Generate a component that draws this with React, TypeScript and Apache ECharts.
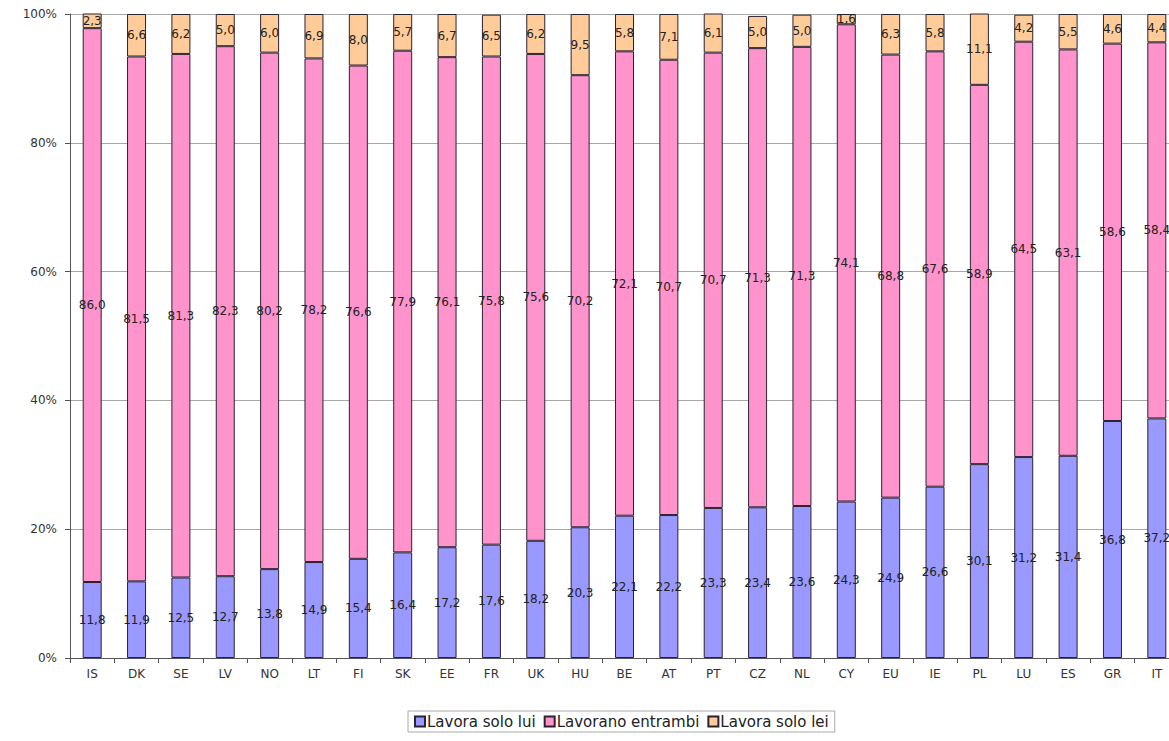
import React, { useEffect, useRef } from "react";
import * as echarts from "echarts";

const categories = ["IS","DK","SE","LV","NO","LT","FI","SK","EE","FR","UK","HU","BE","AT","PT","CZ","NL","CY","EU","IE","PL","LU","ES","GR","IT"];
const lavoraSoloLui = [11.8,11.9,12.5,12.7,13.8,14.9,15.4,16.4,17.2,17.6,18.2,20.3,22.1,22.2,23.3,23.4,23.6,24.3,24.9,26.6,30.1,31.2,31.4,36.8,37.2];
const lavoranoEntrambi = [86.0,81.5,81.3,82.3,80.2,78.2,76.6,77.9,76.1,75.8,75.6,70.2,72.1,70.7,70.7,71.3,71.3,74.1,68.8,67.6,58.9,64.5,63.1,58.6,58.4];
const lavoraSoloLei = [2.3,6.6,6.2,5.0,6.0,6.9,8.0,5.7,6.7,6.5,6.2,9.5,5.8,7.1,6.1,5.0,5.0,1.6,6.3,5.8,11.1,4.2,5.5,4.6,4.4];
const seriesNames = ["Lavora solo lui", "Lavorano entrambi", "Lavora solo lei"];
const yTicks = [0, 20, 40, 60, 80, 100];

const FONT = "DejaVu Sans";

export default function App() {
  const ref = useRef<HTMLDivElement>(null);
  useEffect(() => {
    if (!ref.current) return;
    const chart = echarts.init(ref.current, undefined, { renderer: "svg" });
    const fmt = (p: any) => Number(p.value).toFixed(1).replace(".", ",");
    const mk = (name: string, data: number[], color: string) => ({
      name,
      type: "bar",
      stack: "tot",
      data,
      barWidth: 19,
      itemStyle: { color, borderColor: "#2a2233", borderWidth: 1 },
      label: {
        show: true,
        position: "inside",
        formatter: fmt,
        color: "#222",
        fontFamily: FONT,
        fontSize: 12,
      },
    });
    chart.setOption({
      animation: false,
      backgroundColor: "#fff",
      grid: { left: 70, right: 1, top: 14, bottom: 83, containLabel: false },
      legend: {
        left: 408,
        top: 711,
        data: seriesNames,
        orient: "horizontal",
        itemWidth: 10,
        itemHeight: 10,
        itemGap: 8,
        padding: [3, 6],
        borderColor: "#aaa",
        borderWidth: 1,
        textStyle: { fontFamily: FONT, fontSize: 15, color: "#222", padding: [0, 0, 0, -3] },
        icon: "rect",
      },
      xAxis: {
        type: "category",
        data: categories,
        boundaryGap: true,
        axisLine: { lineStyle: { color: "#555", width: 1 } },
        axisTick: { show: true, alignWithLabel: false, length: 5, lineStyle: { color: "#555" } },
        axisLabel: { fontFamily: FONT, fontSize: 12, color: "#333", margin: 10, interval: 0 },
      },
      yAxis: {
        type: "value",
        min: 0,
        max: 100,
        interval: 20,
        axisLine: { show: true, lineStyle: { color: "#555" } },
        axisTick: { show: true, length: 5, lineStyle: { color: "#555" } },
        axisLabel: {
          fontFamily: FONT,
          fontSize: 12,
          color: "#333",
          margin: 13,
          formatter: (v: number) => (yTicks.includes(v) ? v + "%" : ""),
        },
        splitLine: { show: true, lineStyle: { color: "#a8a8a8", width: 1 } },
      },
      series: [
        mk(seriesNames[0], lavoraSoloLui, "#9999FF"),
        mk(seriesNames[1], lavoranoEntrambi, "#FF94CC"),
        mk(seriesNames[2], lavoraSoloLei, "#FFCC99"),
      ],
    });
    return () => chart.dispose();
  }, []);
  return (
    <div style={{ position: "fixed", left: 0, top: 0, width: 1169, height: 741, overflow: "hidden", background: "#fff" }}>
      <div ref={ref} style={{ position: "absolute", left: 0, top: 0, width: 1180, height: 741 }} />
    </div>
  );
}
